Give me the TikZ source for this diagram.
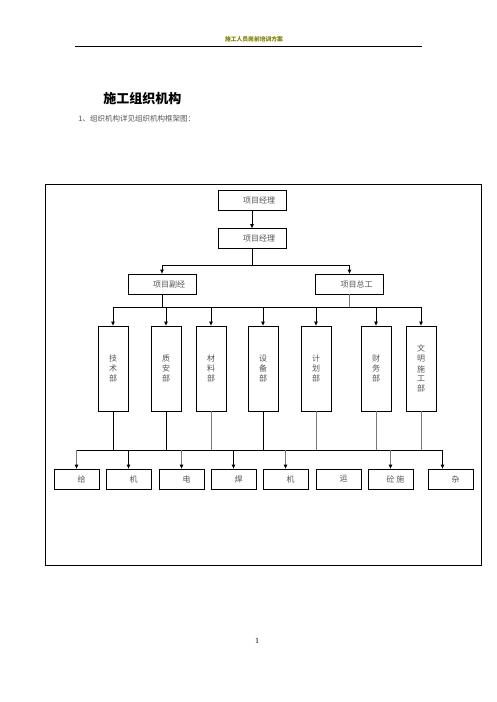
\documentclass[tikz,border=0pt]{standalone}
\usepackage{fontspec}
\setmainfont{Liberation Serif}
\newfontfamily\cjk{Noto Sans CJK SC}
\usetikzlibrary{arrows.meta}
\definecolor{headolive}{RGB}{128,128,0}
\definecolor{txtgray}{RGB}{85,85,85}
\definecolor{linegray}{RGB}{120,120,120}
\tikzset{
  arr/.style={-{Triangle[length=4pt,width=3.5pt,black]}},
  box/.style={draw,minimum width=68pt,minimum height=20pt,inner sep=1pt,
    font=\cjk\fontsize{8}{9}\selectfont,text=txtgray,execute at begin node=\hspace*{14pt}},
  deptbox/.style={draw,minimum width=30pt,minimum height=85pt,inner sep=1pt,
    font=\cjk\fontsize{8}{9}\selectfont,text=txtgray},
  workbox/.style={draw,minimum width=45pt,minimum height=20pt,inner sep=1pt,
    font=\cjk\fontsize{8}{9}\selectfont,text=txtgray,execute at begin node=\hspace*{10pt}}
}
\begin{document}
\begin{tikzpicture}[x=1pt,y=-1pt,line width=0.8pt]
  \useasboundingbox (0,0) rectangle (496,702);
  % page head
  \node[font=\cjk\bfseries\fontsize{5.8}{6}\selectfont,text=headolive] (head) at (254,39) {施工人员岗前培训方案};
  \draw[line width=0.9pt] (75,46.5) -- (422,46.5);
  \node[anchor=west,inner sep=0,font=\cjk\bfseries\fontsize{13}{14}\selectfont] (title) at (103,99) {施工组织机构};
  \node[anchor=west,inner sep=0,text=txtgray,font=\cjk\fontsize{7.5}{8}\selectfont] (intro) at (78,119) {1、组织机构详见组织机构框架图：};
  \draw (45,184) rectangle (481,565);

  \node[box] (pm1) at (252,200) {项目经理};
  \node[box] (pm2) at (252,238.5) {项目经理};
  \node[box] (fu) at (162,284) {项目副经};
  \node[box] (zong) at (349.5,284) {项目总工};

  \node[deptbox] (jishu) at (113,368.5) {\raisebox{-9pt}{\shortstack{技\\术\\部}}};
  \node[deptbox] (zhian) at (166,368.5) {\raisebox{-9pt}{\shortstack{质\\安\\部}}};
  \node[deptbox] (cailiao) at (211,368.5) {\raisebox{-9pt}{\shortstack{材\\料\\部}}};
  \node[deptbox] (shebei) at (263,368.5) {\raisebox{-9pt}{\shortstack{设\\备\\部}}};
  \node[deptbox] (jihua) at (316,368.5) {\shortstack{计\\划\\部}};
  \node[deptbox] (caiwu) at (376,368.5) {\shortstack{财\\务\\部}};
  \node[deptbox] (wenming) at (421,368.5) {\shortstack{文\\明\\施\\工\\部}};

  \node[workbox] (gei) at (76.5,479) {给};
  \node[workbox] (ji1) at (128.5,479) {机};
  \node[workbox] (dian) at (181.5,479) {电};
  \node[workbox] (han) at (233.5,479) {焊};
  \node[workbox] (ji2) at (285.5,479) {机};
  \node[workbox] (yun) at (338.5,479) {运};
  \node[workbox] (tong) at (390.5,479) {砼\ 施};
  \node[workbox] (za) at (450.5,479) {杂};

  % top levels
  \draw[arr] (pm1) -- (pm2);
  \coordinate (split) at (252,265);
  \draw (pm2) -- (split);
  \draw[arr] (split) -| (fu);
  \draw[arr] (split) -| (zong);

  % departments
  \coordinate (bus1) at (0,307);
  \draw (fu) -- (fu |- bus1);
  \draw[linegray] (zong) -- (zong |- bus1);
  \draw (jishu |- bus1) -- (wenming |- bus1);
  \foreach \d in {jishu,zhian,cailiao,shebei,jihua,caiwu,wenming}
    \draw[arr] (\d |- bus1) -- (\d);

  % workers
  \coordinate (bus2) at (0,450);
  \coordinate (zain) at ([xshift=-8pt]za.north);
  \draw (gei |- bus2) -- (zain |- bus2);
  \foreach \d/\c in {jishu/black,zhian/black,cailiao/linegray,shebei/black,jihua/linegray,caiwu/linegray,wenming/linegray}
    \draw[\c] (\d) -- (\d |- bus2);
  \foreach \w/\c in {gei/linegray,ji1/black,dian/linegray,han/black,ji2/linegray,tong/linegray}
    \draw[arr,\c] (\w |- bus2) -- (\w);
  \draw[arr] (zain |- bus2) -- (zain);

  \node[font=\fontsize{8}{9}\selectfont] (pageno) at (257,641) {1};
\end{tikzpicture}
\end{document}
